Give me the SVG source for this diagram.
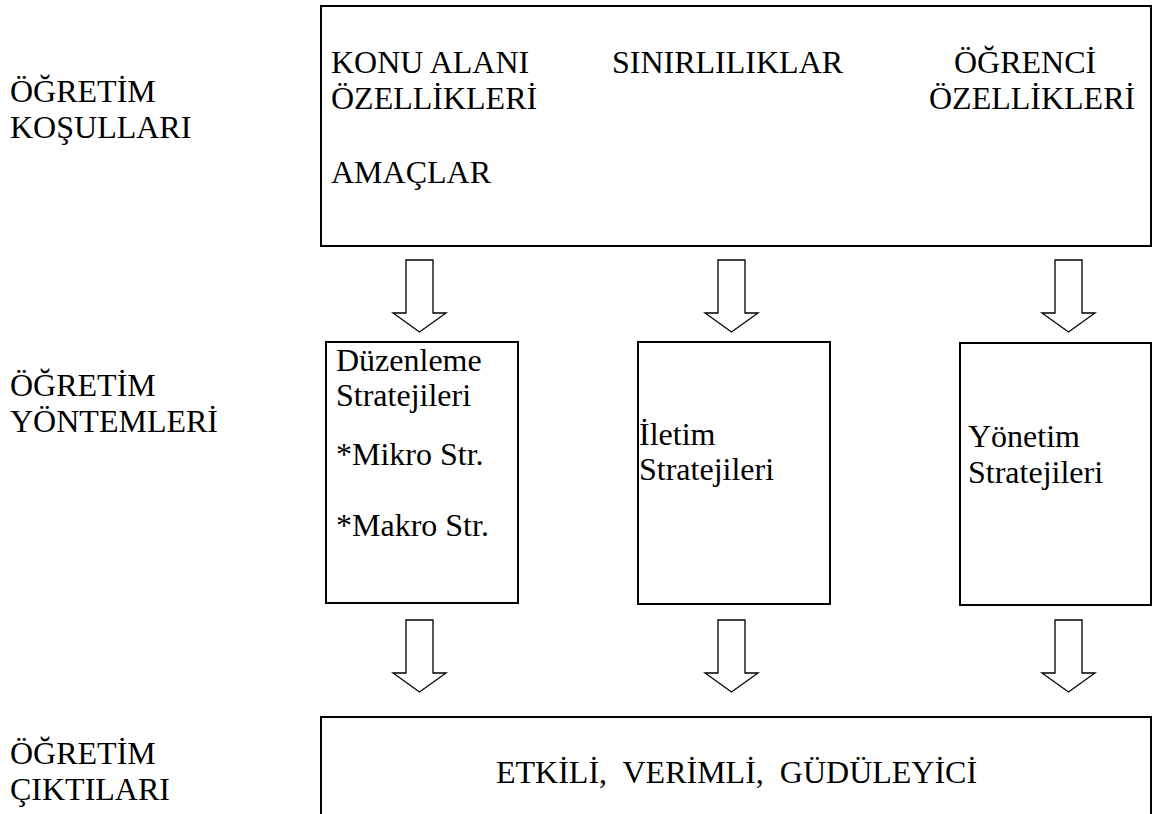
<svg xmlns="http://www.w3.org/2000/svg" width="1155" height="814" viewBox="0 0 1155 814">
<style>
  .box { fill: #fff; stroke: #000; stroke-width: 2; }
  .arr { fill: #fff; stroke: #000; stroke-width: 1.3; stroke-linejoin: miter; }
  text { font-family: "Liberation Serif", "Times New Roman", serif; font-size: 32px; fill: #000; }
</style>
<defs>
  <path id="blockArrow" d="M0,0 H27 V53 H40 L13.5,72 L-13,53 H0 Z"/>
</defs>
<rect width="1155" height="814" fill="#fff"/>

<g id="label-kosullar">
  <text x="10" y="102">ÖĞRETİM</text>
  <text x="10" y="138">KOŞULLARI</text>
</g>
<g id="label-yontemler">
  <text x="10" y="396">ÖĞRETİM</text>
  <text x="10" y="432">YÖNTEMLERİ</text>
</g>
<g id="label-ciktilar">
  <text x="10" y="764">ÖĞRETİM</text>
  <text x="10" y="800">ÇIKTILARI</text>
</g>

<g id="node-kosullar">
  <rect class="box" x="321" y="6" width="830" height="240"/>
  <text x="331" y="73">KONU ALANI</text>
  <text x="331" y="109">ÖZELLİKLERİ</text>
  <text x="331" y="183">AMAÇLAR</text>
  <text x="612" y="73">SINIRLILIKLAR</text>
  <text x="954" y="73">ÖĞRENCİ</text>
  <text x="929" y="109">ÖZELLİKLERİ</text>
</g>

<g id="node-duzenleme">
  <rect class="box" x="326" y="342" width="192" height="261"/>
  <text x="336" y="371">Düzenleme</text>
  <text x="336" y="406">Stratejileri</text>
  <text x="336" y="465">*Mikro Str.</text>
  <text x="336" y="536">*Makro Str.</text>
</g>

<g id="node-iletim">
  <rect class="box" x="638" y="342" width="192" height="262"/>
  <text x="639" y="445">İletim</text>
  <text x="639" y="480">Stratejileri</text>
</g>

<g id="node-yonetim">
  <rect class="box" x="960" y="343" width="191" height="262"/>
  <text x="968" y="447">Yönetim</text>
  <text x="968" y="483">Stratejileri</text>
</g>

<g id="node-ciktilar">
  <rect class="box" x="321" y="717" width="830" height="120"/>
  <text x="496" y="783" xml:space="preserve">ETKİLİ,  VERİMLİ,  GÜDÜLEYİCİ</text>
</g>

<g id="connectors">
  <use href="#blockArrow" class="arr" x="406" y="260"/>
  <use href="#blockArrow" class="arr" x="718" y="260"/>
  <use href="#blockArrow" class="arr" x="1055" y="260"/>
  <use href="#blockArrow" class="arr" x="406" y="620"/>
  <use href="#blockArrow" class="arr" x="718" y="620"/>
  <use href="#blockArrow" class="arr" x="1055" y="620"/>
</g>
</svg>
